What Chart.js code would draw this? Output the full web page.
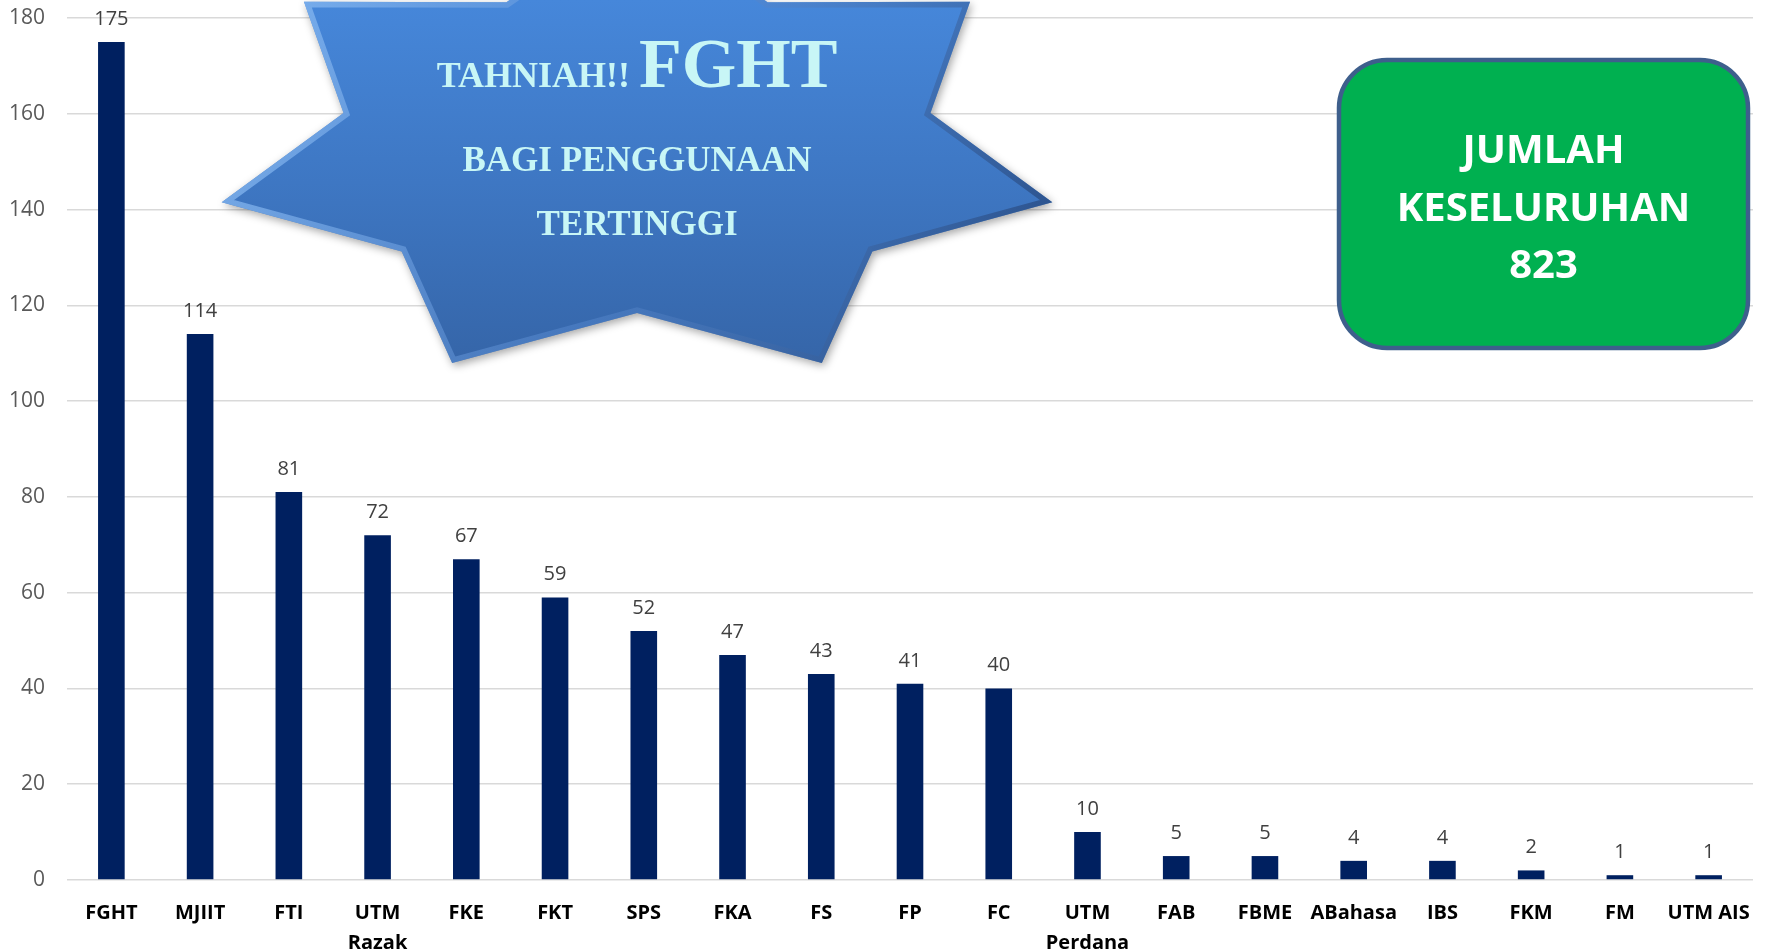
<!DOCTYPE html>
<html lang="ms">

<head>
    <meta charset="UTF-8">
    <title>Penggunaan mengikut Fakulti</title>
    <script src="https://cdn.jsdelivr.net/npm/chart.js"></script>
    <style>
        body {
            margin: 0;
            background: #ffffff;
        }

        #chartContainer {
            width: 1767px;
            height: 952px;
            position: relative;
        }
    </style>
</head>

<body>
    <div id="chartContainer">
        <canvas id="myChart"></canvas>
    </div>
    <script>
        // faculty names (two-line ones kept as arrays)
        const categories = [
            'FGHT', 'MJIIT', 'FTI', ['UTM', 'Razak'], 'FKE', 'FKT', 'SPS', 'FKA', 'FS', 'FP', 'FC',
            ['UTM', 'Perdana'], 'FAB', 'FBME', 'ABahasa', 'IBS', 'FKM', 'FM', 'UTM AIS'
        ];
        const usage = [175, 114, 81, 72, 67, 59, 52, 47, 43, 41, 40, 10, 5, 5, 4, 4, 2, 1, 1];
        const yTicks = [0, 20, 40, 60, 80, 100, 120, 140, 160, 180];

        const total = usage.reduce((a, b) => a + b, 0);

        const numFont = "'Open Sans', sans-serif";

        // value above each bar
        const valueLabels = {
            id: 'valueLabels',
            afterDatasetsDraw(chart) {
                const ctx = chart.ctx;
                const meta = chart.getDatasetMeta(0);
                ctx.save();
                ctx.font = '20px ' + numFont;
                ctx.fillStyle = '#404040';
                ctx.textAlign = 'center';
                ctx.textBaseline = 'alphabetic';
                meta.data.forEach((bar, i) => {
                    ctx.fillText(usage[i], bar.x, bar.y - 17);
                });
                ctx.restore();
            }
        };

        // star badge + green total box
        const overlays = {
            id: 'overlays',
            afterDraw(chart) {
                const ctx = chart.ctx;

                // 7 point star, one point straight up (cut off at the top)
                const cx = 637, cy = 149.5;
                const R = [426, 237], r = [301, 163.5];
                const pts = [];
                for (let k = 0; k < 14; k++) {
                    const ang = -Math.PI / 2 + k * Math.PI / 7;
                    const rad = k % 2 === 0 ? R : r;
                    pts.push([cx + rad[0] * Math.cos(ang), cy + rad[1] * Math.sin(ang)]);
                }
                const starPath = () => {
                    ctx.beginPath();
                    pts.forEach((p, i) => i ? ctx.lineTo(p[0], p[1]) : ctx.moveTo(p[0], p[1]));
                    ctx.closePath();
                };

                ctx.save();
                ctx.shadowColor = 'rgba(0,0,0,0.35)';
                ctx.shadowBlur = 8;
                ctx.shadowOffsetX = 2;
                ctx.shadowOffsetY = 3;
                const g = ctx.createLinearGradient(0, 0, 0, 365);
                g.addColorStop(0, '#4687da');
                g.addColorStop(0.5, '#3e77c3');
                g.addColorStop(1, '#3565a8');
                ctx.fillStyle = g;
                starPath();
                ctx.fill();
                ctx.restore();

                // bevel edge
                ctx.save();
                starPath();
                ctx.clip();
                const bev = ctx.createLinearGradient(220, 0, 1050, 365);
                bev.addColorStop(0, 'rgba(140,190,245,0.85)');
                bev.addColorStop(0.5, 'rgba(90,140,210,0.45)');
                bev.addColorStop(1, 'rgba(30,60,110,0.75)');
                ctx.strokeStyle = bev;
                ctx.lineWidth = 11;
                ctx.lineJoin = 'miter';
                starPath();
                ctx.stroke();
                ctx.restore();

                // star text
                ctx.save();
                ctx.fillStyle = '#c8f6f6';
                ctx.textBaseline = 'alphabetic';
                const serif = "'Liberation Serif', 'DejaVu Serif', serif";
                ctx.font = 'bold 36px ' + serif;
                const w1 = ctx.measureText('TAHNIAH!! ').width;
                ctx.font = 'bold 70px ' + serif;
                const w2 = ctx.measureText('FGHT').width;
                const x0 = cx - (w1 + w2) / 2;
                ctx.textAlign = 'left';
                ctx.font = 'bold 36px ' + serif;
                ctx.fillText('TAHNIAH!! ', x0, 87);
                ctx.font = 'bold 70px ' + serif;
                ctx.fillText('FGHT', x0 + w1, 87);
                ctx.textAlign = 'center';
                ctx.font = 'bold 35px ' + serif;
                ctx.fillText('BAGI PENGGUNAAN', cx, 171);
                ctx.fillText('TERTINGGI', cx, 235);
                ctx.restore();

                // green total box
                const bx = 1339, by = 60, bw = 409, bh = 288, br = 48;
                ctx.save();
                ctx.beginPath();
                ctx.roundRect(bx, by, bw, bh, br);
                ctx.fillStyle = '#00b050';
                ctx.fill();
                ctx.lineWidth = 4.5;
                ctx.strokeStyle = '#3e5f8c';
                ctx.stroke();
                ctx.fillStyle = '#ffffff';
                ctx.textAlign = 'center';
                ctx.font = 'bold 40px ' + numFont;
                const bcx = bx + bw / 2;
                ctx.fillText('JUMLAH', bcx, 163);
                ctx.fillText('KESELURUHAN', bcx, 221);
                ctx.fillText(String(total), bcx, 278);
                ctx.restore();
            }
        };

        const ctx = document.getElementById('myChart').getContext('2d');
        const myChart = new Chart(ctx, {
            type: 'bar',
            data: {
                labels: categories,
                datasets: [{
                    label: 'Penggunaan',
                    data: usage,
                    backgroundColor: '#002060',
                    barPercentage: 0.3,
                    categoryPercentage: 1.0
                }]
            },
            options: {
                responsive: true,
                maintainAspectRatio: false,
                animation: false,
                devicePixelRatio: 1,
                layout: {
                    padding: { top: 18, right: 14, left: 0, bottom: 0 }
                },
                plugins: {
                    legend: { display: false },
                    tooltip: { enabled: false }
                },
                scales: {
                    x: {
                        grid: { display: false },
                        border: { display: false },
                        ticks: {
                            color: '#000000',
                            font: { family: numFont, size: 20, weight: 'bold', lineHeight: 1.5 },
                            maxRotation: 0,
                            autoSkip: false,
                            padding: 10
                        },
                        afterFit: (scale) => {
                            scale.height = 72;
                            scale.paddingLeft = 0;
                            scale.paddingRight = 0;
                        }
                    },
                    y: {
                        min: 0,
                        max: 180,
                        afterBuildTicks: (scale) => {
                            scale.ticks = yTicks.map(v => ({ value: v }));
                        },
                        grid: {
                            color: '#d9d9d9',
                            lineWidth: 1.5,
                            drawTicks: true,
                            tickLength: 22,
                            tickColor: 'rgba(0,0,0,0)'
                        },
                        border: { display: false },
                        ticks: {
                            color: '#595959',
                            font: { family: numFont, size: 21 },
                            padding: 0
                        },
                        afterFit: (scale) => { scale.width = 67; }
                    }
                }
            },
            plugins: [valueLabels, overlays]
        });
    </script>

</body>

</html>
